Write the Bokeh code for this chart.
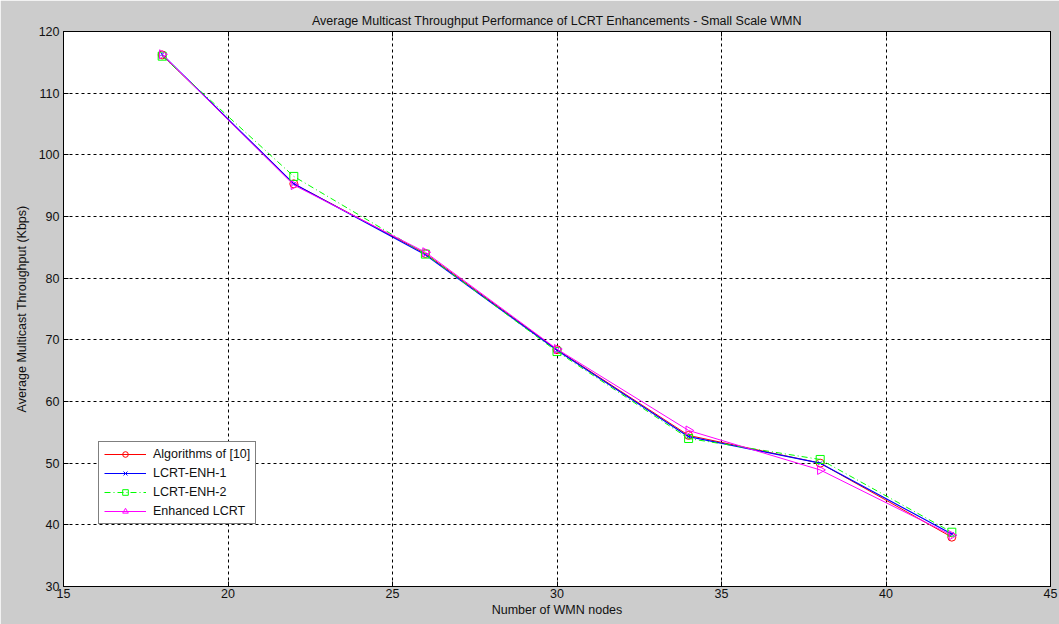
import math
from bokeh.plotting import figure
from bokeh.models import (FixedTicker, LinearAxis, Legend, LegendItem, Range1d, Title, ColumnDataSource)
from bokeh.embed import file_html
from bokeh.resources import INLINE

nodes = [18, 22, 26, 30, 34, 38, 42]
alg10 = [116.2, 95.3, 84.0, 68.4, 54.5, 50.0, 38.0]
enh1 = [116.3, 95.3, 83.8, 68.3, 54.3, 50.0, 38.5]
enh2 = [116.0, 96.5, 83.9, 68.1, 54.0, 50.6, 38.8]
enhanced = [116.3, 95.1, 84.2, 68.5, 55.3, 48.9, 38.3]
names = ["Algorithms of [10]", "LCRT-ENH-1", "LCRT-ENH-2", "Enhanced LCRT"]
x_ticks = [15, 20, 25, 30, 35, 40, 45]
y_ticks = [30, 40, 50, 60, 70, 80, 90, 100, 110, 120]

FONT = "Liberation Sans"
TXT = "12.5px"
p = figure(width=1059, height=624, output_backend="svg", toolbar_location=None,
           x_range=Range1d(15, 45), y_range=Range1d(30, 120),
           min_border_left=63, min_border_right=9, min_border_top=31, min_border_bottom=38)
p.border_fill_color = "#cccccc"
p.background_fill_color = "white"
p.outline_line_color = "black"
p.outline_line_width = 1

p.title = Title(text="Average Multicast Throughput Performance of LCRT Enhancements - Small Scale WMN",
                align="center", text_font=FONT, text_font_size=TXT,
                text_font_style="normal", text_color="#111111", offset=0, standoff=7)

for ax in (p.xaxis[0], p.yaxis[0]):
    ax.ticker = FixedTicker(ticks=x_ticks if ax is p.xaxis[0] else y_ticks)
    ax.major_tick_in = 5
    ax.major_tick_out = 0
    ax.minor_tick_line_color = None
    ax.axis_line_color = "black"
    ax.major_tick_line_color = "black"
    ax.major_label_text_font = FONT
    ax.major_label_text_font_size = "12.5px"
    ax.major_label_text_color = "#111111"
    ax.axis_label_text_font = FONT
    ax.axis_label_text_font_size = TXT
    ax.axis_label_text_font_style = "normal"
    ax.axis_label_text_color = "#111111"
p.xaxis[0].axis_label = "Number of WMN nodes"
p.yaxis[0].axis_label = "Average Multicast Throughput (Kbps)"
p.xaxis[0].major_label_standoff = 2
p.yaxis[0].major_label_standoff = 4
p.xaxis[0].axis_label_standoff = 2
p.yaxis[0].axis_label_standoff = 7

for loc, ticks in (("above", x_ticks), ("right", y_ticks)):
    ax = LinearAxis(ticker=FixedTicker(ticks=ticks), major_tick_in=5, major_tick_out=0,
                    minor_tick_line_color=None, axis_line_color="black",
                    major_label_overrides={t: "" for t in ticks}, major_label_standoff=0)
    p.add_layout(ax, loc)

p.grid.grid_line_color = "black"
p.grid.grid_line_dash = "3 3"
p.grid.grid_line_width = 1
p.xgrid.ticker = FixedTicker(ticks=x_ticks)
p.ygrid.ticker = FixedTicker(ticks=y_ticks)

items = []
l = p.line(nodes, alg10, line_color="red", line_width=1)
s = p.scatter(nodes, alg10, marker="circle", size=8, line_color="red", fill_color=None)
items.append(LegendItem(label=names[0], renderers=[l, s]))
l = p.line(nodes, enh1, line_color="#0000ff", line_width=1.2)
s = p.scatter(nodes, enh1, marker="x", size=5, line_color="#0000ff")
items.append(LegendItem(label=names[1], renderers=[l, s]))
l = p.line(nodes, enh2, line_color="#00ff00", line_width=1, line_dash="6 3 1 3")
s = p.scatter(nodes, enh2, marker="square", size=8, line_color="#00ff00", fill_color=None)
items.append(LegendItem(label=names[2], renderers=[l, s]))
l = p.line(nodes, enhanced, line_color="magenta", line_width=1)
tri_src = ColumnDataSource(dict(x=nodes, y=enhanced, a=[-math.pi / 2] * len(nodes)))
s = p.scatter("x", "y", source=tri_src, marker="triangle", size=9, angle="a",
              line_color="magenta", fill_color=None)
items.append(LegendItem(label=names[3], renderers=[l, s], index=0))

legend = Legend(items=items, location=(35, 62), label_text_font=FONT,
                label_text_font_size=TXT, label_text_color="#111111",
                border_line_color="black", border_line_width=1, background_fill_color="white",
                background_fill_alpha=1, glyph_width=42, glyph_height=14, label_height=14,
                spacing=5, padding=5, margin=0, label_standoff=7)
p.add_layout(legend, "center")

open("out.html", "w").write(file_html(p, INLINE))
